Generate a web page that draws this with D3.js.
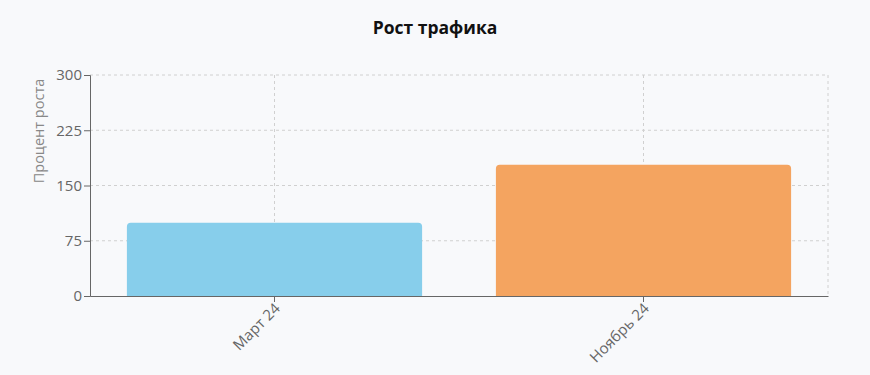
<!DOCTYPE html>
<html><head><meta charset="utf-8">
<script src="https://cdn.jsdelivr.net/npm/d3@7"></script>
<style>
body{margin:0;background:#f8f9fb;font-family:"Open Sans",sans-serif;}
</style></head>
<body><svg id="c" width="870" height="375"></svg>
<script>
const categories = ["Март 24", "Ноябрь 24"];
const values = [99.5, 178];
const colors = ["#87CEEB", "#F4A460"];
const yTicks = [0, 75, 150, 225, 300];
const title = "Рост трафика";
const yLabel = "Процент роста";

const svg = d3.select("#c");
const m = {l: 90, r: 42, t: 75, b: 79};
const W = 870, H = 375;
const x = d3.scaleBand().domain(categories).range([m.l, W - m.r]).paddingInner(0.2).paddingOuter(0.1);
const y = d3.scaleLinear().domain([0, 300]).range([H - m.b, m.t]);

svg.append("rect").attr("width", W).attr("height", H).attr("fill", "#f8f9fb");

// grid
const g = svg.append("g").attr("stroke", "#d0d0d0").attr("stroke-dasharray", "3,3").attr("stroke-width", 1);
yTicks.filter(d => d > 0).forEach(t => g.append("line").attr("x1", m.l).attr("x2", W - m.r).attr("y1", y(t)).attr("y2", y(t)));
categories.forEach(c => g.append("line").attr("x1", x(c) + x.bandwidth() / 2).attr("x2", x(c) + x.bandwidth() / 2).attr("y1", m.t).attr("y2", H - m.b));
g.append("line").attr("x1", W - m.r).attr("x2", W - m.r).attr("y1", m.t).attr("y2", H - m.b);

// bars
svg.selectAll(".bar").data(categories).enter().append("path")
  .attr("fill", (d, i) => colors[i])
  .attr("d", (d, i) => {
    const x0 = x(d), w = x.bandwidth(), y0 = y(values[i]), y1 = y(0), r = 4;
    return `M${x0},${y1}V${y0 + r}Q${x0},${y0} ${x0 + r},${y0}H${x0 + w - r}Q${x0 + w},${y0} ${x0 + w},${y0 + r}V${y1}Z`;
  });

// axes
const ya = svg.append("g").attr("transform", `translate(${m.l},0)`)
  .call(d3.axisLeft(y).tickValues(yTicks).tickSize(6).tickPadding(2));
ya.select(".domain").attr("stroke", "#666");
ya.selectAll(".tick line").attr("stroke", "#666");
ya.selectAll("text").attr("fill", "#666").attr("font-size", 15).attr("font-family", "Open Sans");

const xa = svg.append("g").attr("transform", `translate(0,${H - m.b})`)
  .call(d3.axisBottom(x).tickSize(6).tickSizeOuter(0));
xa.select(".domain").attr("stroke", "#666");
xa.selectAll(".tick line").attr("stroke", "#666");
xa.selectAll("text").attr("fill", "#666").attr("font-size", 15).attr("font-family", "Open Sans")
  .attr("text-anchor", "end").attr("dy", "0.35em")
  .attr("transform", "translate(0,4) rotate(-45)").attr("x", -2).attr("y", 6);

svg.append("text").attr("x", 435).attr("y", 34).attr("text-anchor", "middle")
  .attr("font-size", 17.5).attr("font-weight", "bold").attr("fill", "#111").attr("font-family", "Open Sans").text(title);

svg.append("text").attr("transform", `translate(44,131) rotate(-90)`)
  .attr("text-anchor", "middle").attr("font-size", 14.5).attr("fill", "#888").attr("font-family", "Open Sans").text(yLabel);
</script></body></html>
